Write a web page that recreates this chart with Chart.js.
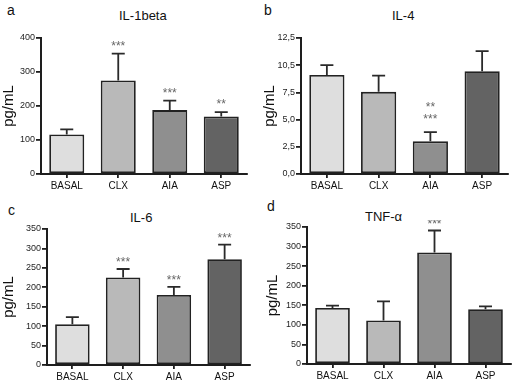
<!DOCTYPE html>
<html><head><meta charset="utf-8">
<script src="https://cdn.jsdelivr.net/npm/chart.js@4.4.1/dist/chart.umd.min.js"></script>
<style>
html,body{margin:0;padding:0;background:#fff}
body{width:515px;height:383px;position:relative;overflow:hidden;font-family:"Liberation Sans",Arial,Helvetica,sans-serif;color:#111}
canvas{position:absolute}
.t{position:absolute;font-size:13px;line-height:13px;white-space:nowrap}
.l{position:absolute;font-size:14px;line-height:14px}
</style></head><body>
<div class="l" style="left:7px;top:3px">a</div>
<div class="l" style="left:264px;top:3px">b</div>
<div class="l" style="left:8px;top:203px">c</div>
<div class="l" style="left:267px;top:199px">d</div>
<div class="t" style="left:119px;top:9px">IL-1beta</div>
<div class="t" style="left:392px;top:9px">IL-4</div>
<div class="t" style="left:130px;top:211px">IL-6</div>
<div class="t" style="left:365px;top:210px">TNF-α</div>
<canvas id="ca" width="257" height="164" style="left:0;top:28px"></canvas>
<canvas id="cb" width="258" height="164" style="left:257px;top:28px"></canvas>
<canvas id="cc" width="257" height="161" style="left:0;top:222px"></canvas>
<canvas id="cd" width="258" height="163" style="left:257px;top:220px"></canvas>
<script>
const categories = ['BASAL', 'CLX', 'AIA', 'ASP'];
const barColors = ['#dedede', '#b9b9b9', '#8f8f8f', '#636363'];

const il1Means = [116, 275, 188, 169];
const il1Sem = [15, 79, 28, 13];
const il1Stars = ['', '***', '***', '**'];

const il4Means = [9.1, 7.55, 3.0, 9.45];
const il4Sem = [0.9, 1.5, 0.85, 1.85];
const il4Stars = ['', '', '**\n***', ''];
const il4TickLabels = ['0,0', '2,5', '5,0', '7,5', '10,5', '12,5'];

const il6Means = [105, 225, 180, 272];
const il6Sem = [18, 22, 21, 38];
const il6Stars = ['', '***', '***', '***'];

const tnfMeans = [143, 111, 285, 140];
const tnfSem = [6, 49, 56, 7];
const tnfStars = ['', '', '***', ''];

const AX = '#1e1e1e';
const FONT = '"Liberation Sans", Arial, sans-serif';

const errPlugin = {
  id: 'errStars',
  afterDatasetsDraw(chart, args, opts) {
    const ctx = chart.ctx;
    const meta = chart.getDatasetMeta(0);
    const ys = chart.scales.y;
    const ds = chart.data.datasets[0];
    ctx.save();
    meta.data.forEach((bar, i) => {
      const x = bar.x;
      const yMean = ys.getPixelForValue(ds.data[i]);
      const yTop = ys.getPixelForValue(ds.data[i] + opts.sem[i]);
      ctx.strokeStyle = '#2a2a2a';
      ctx.lineWidth = 1.8;
      ctx.beginPath();
      ctx.moveTo(x, yMean);
      ctx.lineTo(x, yTop);
      ctx.moveTo(x - 6.5, yTop);
      ctx.lineTo(x + 6.5, yTop);
      ctx.stroke();
      const s = opts.stars[i];
      if (s) {
        const lines = s.split('\n');
        ctx.fillStyle = '#666';
        ctx.font = '12px ' + FONT;
        ctx.textAlign = 'center';
        ctx.textBaseline = 'alphabetic';
        for (let k = 0; k < lines.length; k++) {
          const fromBottom = lines.length - 1 - k;
          ctx.fillText(lines[k], x, yTop - opts.gap - fromBottom * 12.5);
        }
      }
    });
    ctx.restore();
  }
};

function makeChart(id, means, sem, stars, yOpts, geo) {
  const yTicks = {
    color: AX, padding: 1,
    font: { family: FONT, size: 9 },
    stepSize: yOpts.step
  };
  if (yOpts.labels) {
    yTicks.callback = (v, i) => yOpts.labels[i];
  }
  return new Chart(document.getElementById(id), {
    type: 'bar',
    data: {
      labels: categories,
      datasets: [{
        data: means,
        backgroundColor: barColors,
        borderColor: '#222',
        borderWidth: 1.8,
        borderSkipped: false,
        barPercentage: 0.68,
        categoryPercentage: 1
      }]
    },
    options: {
      responsive: false,
      animation: false,
      devicePixelRatio: 1,
      layout: { padding: { top: geo.top, right: geo.right, left: 0, bottom: 0 } },
      plugins: {
        legend: { display: false },
        tooltip: { enabled: false },
        errStars: { sem: sem, stars: stars, gap: geo.gap }
      },
      scales: {
        x: {
          grid: { display: true, drawOnChartArea: false, offset: false, tickLength: 4, color: AX, lineWidth: 1.8 },
          border: { color: AX, width: 2 },
          ticks: { color: '#111', padding: 2, font: { family: FONT, size: 10 }, maxRotation: 0 },
          afterFit: s => { s.height = geo.xh; }
        },
        y: {
          min: 0, max: yOpts.max,
          grid: { display: true, drawOnChartArea: false, tickLength: 5, color: AX, lineWidth: 1.8 },
          border: { color: AX, width: 2 },
          ticks: yTicks,
          title: { display: true, text: 'pg/mL', color: '#111', padding: { top: geo.tp, bottom: 0 },
                   font: { family: FONT, size: 15 } },
          afterFit: s => { s.width = geo.yw; }
        }
      }
    },
    plugins: [errPlugin]
  });
}

makeChart('ca', il1Means, il1Sem, il1Stars, { max: 400, step: 100 },
  { top: 10, right: 10, xh: 18, yw: 41, tp: 0, gap: 4 });
makeChart('cb', il4Means, il4Sem, il4Stars, { max: 12.5, step: 2.5, labels: il4TickLabels },
  { top: 10, right: 7, xh: 18, yw: 44, tp: 4, gap: 9 });
makeChart('cc', il6Means, il6Sem, il6Stars, { max: 350, step: 50 },
  { top: 7, right: 7, xh: 18, yw: 47, tp: 0, gap: 3 });
makeChart('cd', tnfMeans, tnfSem, tnfStars, { max: 350, step: 50 },
  { top: 7, right: 4, xh: 19, yw: 50, tp: 7, gap: 3 });
</script>
</body></html>
